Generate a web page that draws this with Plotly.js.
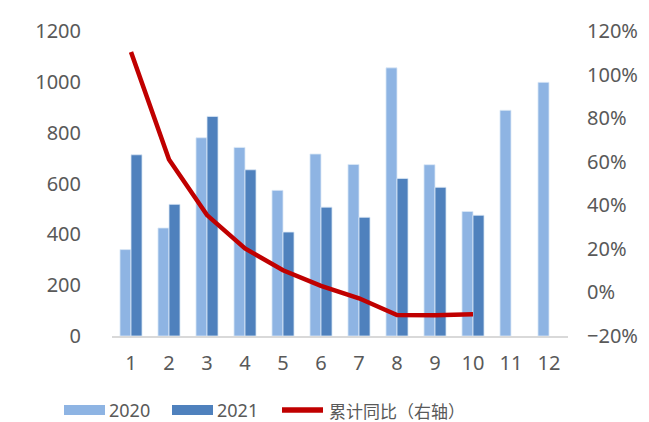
<!DOCTYPE html>
<html><head><meta charset="utf-8">
<script src="https://cdn.plot.ly/plotly-3.0.1.min.js"></script>
<style>html,body{margin:0;padding:0;background:#fff}#chart{width:649px;height:422px}</style>
</head><body><div id="chart"></div>
<script>
const months = ['1','2','3','4','5','6','7','8','9','10','11','12'];
const sales2020 = [340, 425, 780, 742, 573, 716, 675, 1055, 674, 490, 888, 998];
const sales2021 = [713, 518, 864, 654, 409, 507, 467, 620, 585, 475, null, null];
const cumYoY = [1.104, 0.61, 0.355, 0.202, 0.102, 0.03, -0.027, -0.104, -0.105, -0.10];
const names = ['2020', '2021', '累计同比（右轴）'];
const colors = ['#8EB4E3', '#4F81BD', '#C00000'];

const font = {family: '"Noto Sans", "Noto Sans CJK SC", sans-serif', size: 20, color: '#595959'};
const legFont = {family: '"Noto Sans", "Noto Sans CJK SC", sans-serif', size: 18, color: '#595959'};
const data = [
  {type: 'bar', x: months, y: sales2020, name: names[0], marker: {color: colors[0], line: {color: '#DCE8F6', width: 0.8}}},
  {type: 'bar', x: months, y: sales2021, name: names[1], marker: {color: colors[1], line: {color: '#DCE8F6', width: 0.8}}},
  {type: 'scatter', mode: 'lines', x: months.slice(0, cumYoY.length), y: cumYoY, name: names[2], yaxis: 'y2',
   line: {color: colors[2], width: 4.5}}
];

// custom legend (paper coordinates relative to plot area 112..568 x 31..336)
const L = 112, W = 456, T = 31, H = 305;
const px = v => (v - L) / W, py = v => (336 - v) / H;
const shapes = [
  {type: 'rect', xref: 'paper', yref: 'paper', x0: px(64), x1: px(105), y0: py(415), y1: py(405), fillcolor: colors[0], line: {width: 0}},
  {type: 'rect', xref: 'paper', yref: 'paper', x0: px(172), x1: px(213), y0: py(415), y1: py(405), fillcolor: colors[1], line: {width: 0}},
  {type: 'line', xref: 'paper', yref: 'paper', x0: px(282), x1: px(323), y0: py(410), y1: py(410), line: {color: colors[2], width: 5.5}}
];
const annotations = [
  {text: names[0], x: px(108), y: py(410), xanchor: 'left', yanchor: 'middle'},
  {text: names[1], x: px(216), y: py(410), xanchor: 'left', yanchor: 'middle'},
  {text: names[2], x: px(328), y: py(410), xanchor: 'left', yanchor: 'middle', font: {family: '"Noto Sans CJK SC", sans-serif', size: 17, color: '#595959'}}
].map(a => Object.assign({xref: 'paper', yref: 'paper', showarrow: false, borderpad: 0, font: legFont}, a));

const layout = {
  width: 649, height: 422,
  margin: {l: 112, r: 81, t: 31, b: 86},
  paper_bgcolor: '#fff', plot_bgcolor: '#fff',
  font: font,
  bargap: 0.42, bargroupgap: 0,
  showlegend: false,
  shapes: shapes, annotations: annotations,
  xaxis: {type: 'category', automargin: false, showgrid: false, showline: true, linecolor: '#D9D9D9', linewidth: 1.5, ticks: '', ticklabelstandoff: 8, tickfont: font},
  yaxis: {range: [0, 1200], automargin: false, dtick: 200, showgrid: false, zeroline: false, showline: false, ticks: '', ticklabelstandoff: 30, tickfont: font},
  yaxis2: {range: [-0.2, 1.2], automargin: false, dtick: 0.2, tickformat: '.0%', overlaying: 'y', side: 'right', showgrid: false, zeroline: false, showline: false, ticks: '', ticklabelstandoff: 18, tickfont: font}
};
Plotly.newPlot('chart', data, layout, {displayModeBar: false, staticPlot: true});
</script></body></html>
